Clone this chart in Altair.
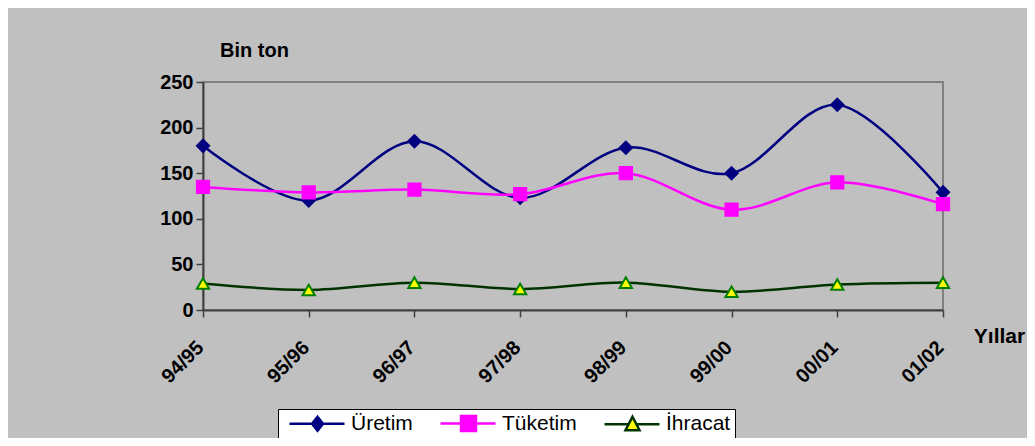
import altair as alt
import pandas as pd

years = ["94/95", "95/96", "96/97", "97/98", "98/99", "99/00", "00/01", "01/02"]
uretim = [180, 120, 185, 123, 178, 150, 225, 129]
tuketim = [135, 129, 132, 127, 150, 110, 140, 116]
ihracat = [29, 22, 30, 23, 30, 20, 28, 30]
series = ["Üretim", "Tüketim", "İhracat"]

line_colors = ["#000080", "#FF00FF", "#003300"]
marker_fill = ["#000080", "#FF00FF", "#FFFF00"]
marker_stroke = ["#000080", "#FF00FF", "#008000"]
marker_shapes = ["diamond", "square", "triangle-up"]
legend_stroke = ["#000080", "#FF00FF", "#003300"]
legend_shapes = [
    "M-0.6,0L3.9,0M3.9,0L5,-1.4L6.1,0L5,1.4ZM6.1,0L10.4,0",
    "M-0.6,0L3.5,0M3.5,-1.5L6.5,-1.5L6.5,1.5L3.5,1.5ZM6.5,0L10.4,0",
    "M-0.6,0L4.2,0M5,-1.5L6.4,1.2L3.6,1.2ZM5.8,0L10.4,0",
]

rows = []
for name, vals in zip(series, [uretim, tuketim, ihracat]):
    for i, (y, v) in enumerate(zip(years, vals)):
        rows.append({"Yil": y, "Deger": v, "Seri": name, "order": i})
df = pd.DataFrame(rows)

FONT = "Liberation Sans"

x_enc = alt.X(
    "Yil:N",
    sort=years,
    scale=alt.Scale(padding=0),
    axis=alt.Axis(
        title="Yıllar",
        titleFont=FONT, titleFontSize=21, titleFontWeight="bold",
        titleAngle=0, titleX=796, titleY=26, titleAlign="center", titleBaseline="middle",
        labelAngle=315, labelFont=FONT, labelFontSize=20, labelFontWeight="bold",
        labelAlign="right", labelBaseline="top", labelPadding=20, labelOffset=-10,
        domainColor="#404040", domainWidth=2, tickColor="#404040", tickWidth=1.5, tickSize=7,
        labelColor="black", grid=False,
    ),
)
y_enc = alt.Y(
    "Deger:Q",
    scale=alt.Scale(domain=[0, 250], nice=False),
    axis=alt.Axis(
        title="Bin ton", values=[0, 50, 100, 150, 200, 250],
        titleFont=FONT, titleFontSize=20, titleFontWeight="bold",
        titleAngle=0, titleX=51, titleY=-32, titleAlign="center", titleBaseline="middle",
        labelFont=FONT, labelFontSize=20, labelFontWeight="bold", labelPadding=3,
        domainColor="#404040", domainWidth=2, tickColor="#404040", tickWidth=1.5, tickSize=7,
        labelColor="black", grid=False,
    ),
)

lines = alt.Chart(df).mark_line(interpolate="cardinal", strokeWidth=2.5).encode(
    x=x_enc,
    y=y_enc,
    stroke=alt.Stroke("Seri:N", scale=alt.Scale(domain=series, range=line_colors), legend=None),
    detail="Seri:N",
    order="order:Q",
)

points = alt.Chart(df).mark_point(filled=True, opacity=1, strokeWidth=2, size=150).encode(
    x=x_enc,
    y=y_enc,
    shape=alt.Shape("Seri:N", scale=alt.Scale(domain=series, range=marker_shapes), legend=None),
    fill=alt.Fill("Seri:N", scale=alt.Scale(domain=series, range=marker_fill), legend=None),
    stroke=alt.Stroke("Seri:N", scale=alt.Scale(domain=series, range=marker_stroke), legend=None),
)

leg = alt.Legend(
    title=None, orient="none", legendX=75, legendY=327, direction="horizontal",
    fillColor="white", strokeColor="black", padding=4,
    labelFont=FONT, labelFontSize=21, labelColor="black", labelOffset=48,
    columnPadding=20, symbolSize=100, symbolStrokeWidth=2.5,
)
legend_layer = alt.Chart(df).transform_filter("datum.Deger < -1000").mark_point(
    filled=True, opacity=1, strokeWidth=2.5, size=100
).encode(
    shape=alt.Shape("Seri:N", scale=alt.Scale(domain=series, range=legend_shapes), legend=leg),
    fill=alt.Fill("Seri:N", scale=alt.Scale(domain=series, range=marker_fill), legend=leg),
    stroke=alt.Stroke("Seri:N", scale=alt.Scale(domain=series, range=legend_stroke), legend=leg),
)

chart = alt.layer(lines, points, legend_layer).resolve_scale(
    shape="independent", fill="independent", stroke="independent"
).properties(
    width=740, height=228,
    autosize=alt.AutoSizeParams(type="none"),
    padding={"left": 195, "top": 74, "right": 84, "bottom": 128},
    background="#C0C0C0",
).configure_view(
    fill="white", stroke="#808080", strokeWidth=2
)

chart.save("out.html", embed_options={"renderer": "svg", "actions": False})
